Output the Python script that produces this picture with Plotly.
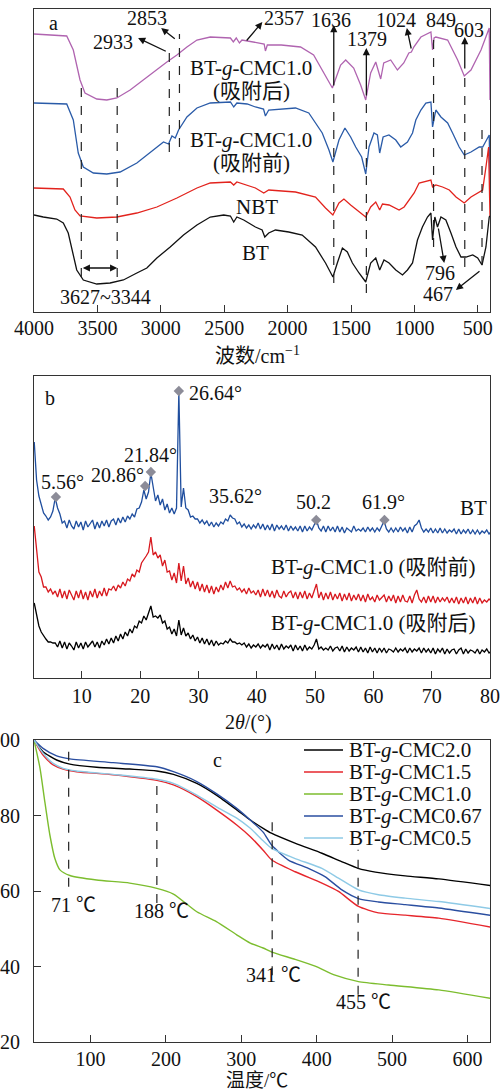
import numpy as np
import plotly.graph_objects as go

FONT = "'Liberation Serif', 'Times New Roman', 'Noto Sans CJK SC', serif"
INK = "#111111"

# ---------------- Panel a : FTIR (y = relative transmittance, arbitrary units) ----------------
FTIR_NAMES = ["BT-g-CMC1.0 (吸附后)", "BT-g-CMC1.0 (吸附前)", "NBT", "BT"]
FTIR_COLORS = ["#b064b0", "#2a5ba8", "#e2231d", "#111111"]

AFTER_WN = [4000, 3850, 3742, 3690, 3637, 3598, 3505, 3426, 3347, 3242, 3110, 2952, 2873, 2794, 2715,
            2610, 2451, 2428, 2405, 2380, 2360, 2270, 2185, 2175, 2160, 2050, 1898, 1795, 1716, 1647,
            1582, 1542, 1479, 1424, 1384, 1345, 1305, 1266, 1242, 1187, 1134, 1084, 1044, 1024, 1005,
            949, 870, 857, 845, 831, 738, 659, 607, 554, 475, 410, 404]
AFTER_T = [278, 277, 276, 262, 232, 219, 213, 212, 214, 222, 235, 250, 257, 265, 272,
           275, 274, 270, 274, 269, 272, 270, 268, 261, 267, 267, 265, 257, 239, 224,
           247, 252, 244, 227, 212, 239, 250, 233, 249, 252, 242, 249, 259, 260, 265,
           275, 280, 262, 274, 275, 272, 252, 236, 242, 262, 284, 212]

BEFORE_WN = [4000, 3850, 3742, 3690, 3651, 3611, 3532, 3426, 3321, 3189, 3058, 2979, 2939, 2912, 2886,
             2860, 2794, 2715, 2610, 2451, 2425, 2400, 2319, 2254, 2190, 2175, 2149, 1938, 1833, 1727,
             1674, 1643, 1595, 1548, 1503, 1463, 1416, 1384, 1358, 1319, 1292, 1274, 1247, 1201, 1147,
             1108, 1055, 1015, 989, 949, 910, 870, 857, 831, 791, 738, 699, 647, 607, 554,
             489, 462, 440, 410, 404]
BEFORE_T = [209, 208, 208, 192, 159, 145, 139, 138, 140, 149, 162, 170, 168, 176, 174,
            182, 195, 204, 209, 210, 205, 209, 208, 205, 203, 196, 202, 204, 199, 179,
            162, 150, 172, 184, 175, 165, 155, 138, 165, 179, 177, 159, 175, 177, 172,
            165, 170, 179, 192, 202, 209, 210, 185, 202, 195, 189, 179, 165, 157, 160,
            165, 165, 170, 177, 129]

NBT_WN = [4000, 3769, 3716, 3677, 3637, 3505, 3347, 3189, 3031, 2873, 2715, 2610, 2451, 2425, 2400,
          2319, 2254, 2188, 2149, 1938, 1780, 1701, 1643, 1595, 1556, 1503, 1437, 1384, 1345, 1305,
          1274, 1252, 1200, 1121, 1081, 1042, 1002, 963, 923, 870, 857, 831, 778, 725, 672,
          607, 554, 501, 462, 436, 415, 404]
NBT_T = [124, 123, 115, 102, 96, 94, 95, 99, 105, 114, 124, 129, 130, 127, 130,
         127, 124, 119, 122, 120, 115, 104, 97, 109, 113, 107, 100, 95, 105, 110,
         102, 108, 107, 102, 105, 112, 119, 129, 130, 132, 125, 127, 125, 122, 115,
         109, 115, 119, 122, 145, 165, 95]

BT_WN = [4000, 3927, 3821, 3769, 3730, 3690, 3663, 3611, 3505, 3400, 3295, 3189, 3110, 3031, 2926,
         2821, 2715, 2610, 2504, 2451, 2425, 2400, 2346, 2254, 2201, 2180, 2149, 2096, 1991, 1885,
         1780, 1701, 1643, 1608, 1568, 1529, 1489, 1437, 1384, 1345, 1305, 1274, 1240, 1200, 1147,
         1094, 1055, 1015, 976, 937, 897, 870, 857, 839, 818, 791, 752, 712, 672, 633,
         593, 540, 501, 467, 436, 410, 404]
BT_T = [97, 95, 93, 89, 79, 55, 42, 32, 28, 29, 32, 39, 44, 54, 65,
        77, 87, 95, 97, 96, 90, 95, 92, 85, 82, 75, 79, 82, 80, 77,
        65, 49, 35, 49, 64, 60, 49, 39, 30, 49, 54, 42, 52, 49, 42,
        37, 42, 49, 72, 85, 95, 99, 72, 95, 85, 95, 92, 79, 65, 55,
        55, 57, 54, 47, 65, 95, 96]

FTIR_TICKS = [4000, 3500, 3000, 2500, 2000, 1500, 1000, 500]
FTIR_DASH_WN = [3627, 3344, 2933, 2853, 1636, 1379, 849, 603, 467]
FTIR_DASH_LO = [35, 35, 160, 165, 29, 19, 65, 45, 47]
FTIR_DASH_HI = [233, 224, 262, 278, 222, 212, 279, 237, 182]

# ---------------- Panel b : XRD ----------------
XRD_START, XRD_STEP = 1.84, 0.4
XRD_BT = [
    236, 198, 182, 174, 165, 162, 158, 161, 167, 180,
    170, 164, 155, 157, 150, 158, 152, 149, 157, 151,
    156, 148, 157, 151, 154, 158, 149, 156, 150, 157,
    152, 158, 151, 157, 159, 153, 160, 155, 161, 156,
    162, 159, 164, 161, 169, 170, 176, 188, 179, 186,
    205, 189, 177, 183, 173, 179, 168, 174, 165, 170,
    164, 170, 286, 171, 190, 170, 168, 161, 162, 159,
    159, 155, 158, 154, 157, 152, 156, 151, 155, 152,
    156, 154, 159, 157, 163, 160, 159, 154, 156, 151,
    154, 150, 153, 149, 153, 150, 155, 149, 154, 148,
    153, 148, 154, 147, 153, 149, 152, 148, 153, 147,
    152, 148, 151, 147, 152, 146, 152, 147, 151, 148,
    154, 158, 150, 147, 152, 146, 152, 147, 151, 146,
    152, 146, 151, 145, 150, 148, 146, 152, 147, 149,
    147, 150, 146, 151, 147, 150, 146, 150, 147, 152,
    157, 149, 146, 150, 146, 150, 146, 151, 147, 150,
    145, 151, 146, 152, 154, 158, 150, 146, 149, 146,
    150, 145, 149, 145, 150, 145, 149, 145, 148, 146,
    149, 144, 149, 144, 148, 145, 149, 144, 148, 144,
    148, 144, 147, 145, 148, 144, 147]
XRD_BEFORE = [
    152, 128, 106, 101, 91, 91, 86, 89, 84, 87,
    81, 89, 80, 87, 79, 88, 82, 78, 87, 80,
    88, 79, 86, 78, 87, 81, 89, 80, 87, 82,
    90, 82, 89, 88, 92, 87, 93, 90, 96, 92,
    99, 97, 104, 101, 108, 106, 115, 118, 122, 126,
    141, 123, 126, 120, 123, 112, 118, 106, 107, 98,
    105, 95, 115, 97, 112, 94, 100, 91, 97, 89,
    96, 87, 94, 86, 93, 85, 92, 84, 91, 86,
    93, 88, 96, 90, 97, 91, 92, 88, 90, 86,
    89, 84, 90, 85, 87, 83, 88, 81, 89, 82,
    88, 81, 87, 80, 88, 82, 80, 87, 81, 85,
    87, 80, 86, 79, 86, 80, 87, 79, 85, 80,
    86, 94, 80, 86, 78, 85, 79, 86, 78, 84,
    79, 85, 77, 84, 78, 85, 77, 83, 78, 84,
    77, 83, 76, 84, 78, 81, 76, 83, 78, 81,
    83, 76, 82, 77, 83, 75, 82, 76, 83, 77,
    76, 82, 75, 83, 88, 79, 76, 81, 75, 82,
    76, 82, 75, 81, 76, 80, 77, 81, 75, 80,
    75, 81, 74, 80, 75, 81, 74, 80, 75, 81,
    74, 80, 75, 78, 76, 79, 77]
XRD_AFTER = [
    75, 62, 52, 46, 42, 39, 36, 36, 35, 35,
    31, 37, 30, 36, 29, 35, 32, 28, 36, 30,
    35, 29, 36, 31, 34, 37, 31, 36, 30, 37,
    33, 39, 34, 40, 35, 42, 37, 44, 39, 46,
    42, 49, 45, 52, 50, 57, 55, 62, 58, 66,
    72, 61, 62, 60, 63, 55, 57, 49, 51, 44,
    49, 42, 58, 43, 50, 42, 45, 39, 43, 37,
    41, 35, 40, 34, 39, 33, 38, 32, 37, 33,
    35, 34, 37, 35, 39, 36, 36, 34, 35, 33,
    35, 31, 34, 30, 33, 31, 34, 30, 33, 31,
    34, 28, 34, 29, 33, 28, 34, 29, 32, 30,
    33, 27, 33, 28, 32, 27, 33, 28, 31, 29,
    33, 39, 29, 31, 28, 30, 28, 32, 27, 30,
    31, 27, 32, 26, 31, 27, 30, 28, 31, 26,
    31, 26, 30, 25, 31, 26, 30, 25, 30, 26,
    30, 25, 29, 28, 26, 30, 26, 29, 27, 30,
    25, 30, 26, 29, 27, 30, 25, 30, 26, 29,
    25, 30, 24, 29, 26, 30, 24, 29, 25, 28,
    29, 24, 28, 30, 24, 29, 25, 28, 27, 25,
    29, 24, 28, 26, 29, 25, 27]
XRD_NAMES = ["BT", "BT-g-CMC1.0 (吸附前)", "BT-g-CMC1.0 (吸附后)"]
XRD_COLORS = ["#1f4e9e", "#d8191f", "#000000"]
XRD_PEAK_POS = [5.56, 20.86, 21.84, 26.64, 50.2, 61.9]
XRD_PEAK_H = [181, 192, 206, 287, 158, 158]
XRD_TICKS = [10, 20, 30, 40, 50, 60, 70, 80]

# ---------------- Panel c : TGA ----------------
TGA_NAMES = ["BT-<i>g</i>-CMC2.0", "BT-<i>g</i>-CMC1.5", "BT-<i>g</i>-CMC1.0",
             "BT-<i>g</i>-CMC0.67", "BT-<i>g</i>-CMC0.5"]
TGA_COLORS = ["#000000", "#e6262c", "#7cbd2e", "#2a4ea0", "#8ecae6"]
TGA20_T = [25, 37, 55, 72.6, 108, 152, 188, 210, 241, 267, 294, 312, 329, 340, 372, 407, 433, 455, 478,
           517.5, 562, 632]
TGA20_W = [100, 96.9, 94.7, 93.6, 92.8, 92.3, 91.8, 90.9, 88.5, 85.4, 81.5, 78.8, 76.6, 75.3, 72.6, 70.0,
           67.8, 66.0, 65.0, 64.0, 63.2, 61.4]
TGA15_T = [25, 37, 50.5, 63.7, 81.5, 130, 188, 210, 241, 267, 294, 312, 329, 340.5, 371.5, 407, 429,
           455.5, 482, 517.5, 562, 632]
TGA15_W = [100, 96.0, 93.4, 92.3, 91.6, 90.8, 89.3, 88.1, 85.0, 81.5, 77.5, 74.4, 70.8, 68.2, 65.1, 62.1,
           59.9, 55.9, 54.2, 53.6, 52.8, 50.4]
TGA10_T = [25, 33, 39.4, 46, 52.7, 59.4, 72.6, 108, 152, 188, 210, 241, 267, 294, 312, 329, 340.5,
           371.5, 398, 424.5, 455.5, 495.5, 562, 632]
TGA10_W = [100, 92.5, 83.6, 74.9, 68.6, 65.6, 64.1, 62.9, 62.1, 60.7, 59.2, 54.5, 51.9, 48.4, 46.2,
           44.9, 43.8, 41.9, 40.1, 37.7, 36.0, 35.1, 33.8, 31.5]
TGA067_T = [25, 37, 55, 72.6, 130, 188, 210, 241, 267, 294, 312, 329, 340.5, 362.5, 389, 411, 433.5,
            455.5, 482, 517.5, 562, 632]
TGA067_W = [100, 97.8, 95.8, 95.0, 94.0, 92.9, 91.6, 89.0, 85.8, 81.9, 78.8, 75.6, 72.1, 68.2, 66.0,
            63.8, 60.3, 58.0, 57.1, 56.4, 55.5, 53.5]
TGA05_T = [25, 37, 50.5, 63.7, 81.5, 130, 188, 210, 241, 267, 294, 312, 329, 340.5, 371.5, 407, 429,
           455.5, 482, 517.5, 562, 632]
TGA05_W = [100, 96.5, 93.8, 92.5, 91.8, 90.9, 89.6, 88.5, 85.4, 82.3, 79.3, 76.6, 73.3, 71.3, 68.6,
           66.0, 63.4, 60.3, 59.0, 58.1, 57.2, 55.3]
TGA_DASH_T = [71, 188, 341, 455]
TGA_DASH_LO = [61.1, 56.8, 37.7, 32.5]
TGA_DASH_HI = [98.7, 89.4, 78.3, 70.9]
TGA_X_TICKS = [100, 200, 300, 400, 500, 600]
TGA_Y_TICKS = [20, 40, 60, 80, 100]

# ---------------- layout helpers ----------------
W, H = 504, 1091
ML, MR, MT, MB = 34, 14, 9, 49
PW, PH = W - ML - MR, H - MT - MB


def fx(px):
    return (px - ML) / PW


def fy(py):
    return (H - MB - py) / PH


fig = go.Figure()

# FTIR traces
for wn, t, name, col in zip([AFTER_WN, BEFORE_WN, NBT_WN, BT_WN],
                            [AFTER_T, BEFORE_T, NBT_T, BT_T], FTIR_NAMES, FTIR_COLORS):
    fig.add_trace(go.Scatter(x=wn, y=t, mode="lines", name=name, showlegend=False,
                             line=dict(color=col, width=1.3), xaxis="x", yaxis="y"))

# XRD traces
for vals, name, col in zip([XRD_BT, XRD_BEFORE, XRD_AFTER], XRD_NAMES, XRD_COLORS):
    tt = XRD_START + XRD_STEP * np.arange(len(vals))
    fig.add_trace(go.Scatter(x=tt, y=vals, mode="lines", name=name, showlegend=False,
                             line=dict(color=col, width=1.3), xaxis="x2", yaxis="y2"))
fig.add_trace(go.Scatter(x=XRD_PEAK_POS, y=XRD_PEAK_H, mode="markers", showlegend=False,
                         marker=dict(symbol="diamond", size=8, color="#8c8c98"),
                         xaxis="x2", yaxis="y2"))

# TGA traces
for tx, wy, name, col in zip([TGA20_T, TGA15_T, TGA10_T, TGA067_T, TGA05_T],
                             [TGA20_W, TGA15_W, TGA10_W, TGA067_W, TGA05_W], TGA_NAMES, TGA_COLORS):
    fig.add_trace(go.Scatter(x=tx, y=wy, mode="lines", name=name, showlegend=False,
                             line=dict(color=col, width=1.4, shape="spline", smoothing=0.6),
                             xaxis="x3", yaxis="y3"))

shapes = []
for wn, lo, hi in zip(FTIR_DASH_WN, FTIR_DASH_LO, FTIR_DASH_HI):
    shapes.append(dict(type="line", xref="x", yref="y", x0=wn, x1=wn, y0=lo, y1=hi,
                       line=dict(color="#222", width=1.2, dash="dash")))
for t, lo, hi in zip(TGA_DASH_T, TGA_DASH_LO, TGA_DASH_HI):
    shapes.append(dict(type="line", xref="x3", yref="y3", x0=t, x1=t, y0=lo, y1=hi,
                       line=dict(color="#222", width=1.2, dash="dash")))

ann = []


def label(text, px, py, size=20, xanchor="center"):
    ann.append(dict(text=text, x=fx(px), y=fy(py), xref="paper", yref="paper", showarrow=False,
                    xanchor=xanchor, yanchor="middle", font=dict(family=FONT, size=size, color=INK)))


def arrow(x, y, ax, ay, xr="x", yr="y", both=False):
    d = dict(text="", x=x, y=y, ax=ax, ay=ay, xref=xr, yref=yr, axref=xr, ayref=yr,
             showarrow=True, arrowhead=2, arrowsize=1.1, arrowwidth=1.3, arrowcolor=INK)
    if both:
        d.update(arrowside="end+start", startarrowhead=2, startarrowsize=1.1)
    ann.append(d)


# panel a annotations
label("a", 53, 23)
label("2853", 147, 18)
label("2933", 113, 42)
label("2357", 284, 18)
label("1636", 331, 20)
label("1379", 367, 39)
label("1024", 396, 20)
label("849", 441, 20)
label("603", 469, 30)
label("BT-<i>g</i>-CMC1.0", 251, 68, 21)
label("(吸附后)", 251, 91, 21)
label("BT-<i>g</i>-CMC1.0", 251, 140, 21)
label("(吸附前)", 251, 163, 21)
label("NBT", 257, 207, 21)
label("BT", 255, 253, 21)
label("796", 440, 273)
label("467", 438, 294)
label("3627~3344", 105, 297)
label("波数/cm<sup>−1</sup>", 257, 355)
arrow(3179, 274, 2949, 260)
arrow(2997, 284, 2878, 272)
arrow(2199, 290, 2333, 270)
arrow(1636, 287, 1636, 225)
arrow(1379, 264, 1379, 215)
arrow(1060, 284, 1023, 262)
arrow(603, 275, 603, 242)
arrow(765, 49, 813, 85)
arrow(673, 22, 475, 42)
arrow(3344, 44, 3627, 44, both=True)

# panel b annotations
label("b", 50, 398)
label("26.64°", 215, 393)
label("21.84°", 150, 455)
label("5.56°", 62, 482)
label("20.86°", 117, 475)
label("35.62°", 235, 496)
label("50.2", 313, 502)
label("61.9°", 383, 502)
label("BT", 473, 508, 21)
label("BT-<i>g</i>-CMC1.0 (吸附前)", 373, 567, 21)
label("BT-<i>g</i>-CMC1.0 (吸附后)", 373, 623, 21)
label("2<i>θ</i>/(°)", 248, 722)

# panel c annotations
label("c", 217, 760)
label("71 ℃", 73, 905)
label("188 ℃", 161, 911)
label("341 ℃", 273, 975)
label("455 ℃", 363, 1002)
label("温度/℃", 257, 1080, 19)
for i, (name, col) in enumerate(zip(TGA_NAMES, TGA_COLORS)):
    ry = 750 + 22 * i
    shapes.append(dict(type="line", xref="paper", yref="paper", x0=fx(304), x1=fx(343),
                       y0=fy(ry), y1=fy(ry), line=dict(color=col, width=1.5)))
    label(name, 347, ry, 21, xanchor="left")

axis_common = dict(showline=True, linecolor="#333", linewidth=1, mirror=True, ticks="inside",
                   ticklen=7, tickcolor="#333", showgrid=False, zeroline=False, automargin=False,
                   tickfont=dict(family=FONT, size=20, color=INK))

fig.update_layout(
    width=W, height=H, margin=dict(l=ML, r=MR, t=MT, b=MB),
    paper_bgcolor="white", plot_bgcolor="white", showlegend=False,
    font=dict(family=FONT, color=INK),
    xaxis=dict(axis_common, anchor="y", domain=[0, 1], range=[4000, 404],
               tickvals=FTIR_TICKS, ticktext=[str(v) for v in FTIR_TICKS], ticklabelstandoff=-2),
    yaxis=dict(axis_common, anchor="x", domain=[fy(312), fy(9)], range=[0, 303],
               ticks="", showticklabels=False),
    xaxis2=dict(axis_common, anchor="y2", domain=[0, 1], range=[1.8, 80],
                tickvals=XRD_TICKS, ticktext=[str(v) for v in XRD_TICKS]),
    yaxis2=dict(axis_common, anchor="x2", domain=[fy(678), fy(376)], range=[0, 302],
                ticks="", showticklabels=False),
    xaxis3=dict(axis_common, anchor="y3", domain=[0, 1], range=[25, 630],
                tickvals=TGA_X_TICKS, ticktext=[str(v) for v in TGA_X_TICKS], ticklabelstandoff=-1),
    yaxis3=dict(axis_common, anchor="x3", domain=[0, fy(740)], range=[20, 100],
                tickvals=TGA_Y_TICKS, ticktext=[str(v) for v in TGA_Y_TICKS],
                ticklabelstandoff=9),
    shapes=shapes, annotations=ann,
)

fig.write_html("out.html", config={"displayModeBar": False},
               post_script="document.body.style.margin='0px';")
